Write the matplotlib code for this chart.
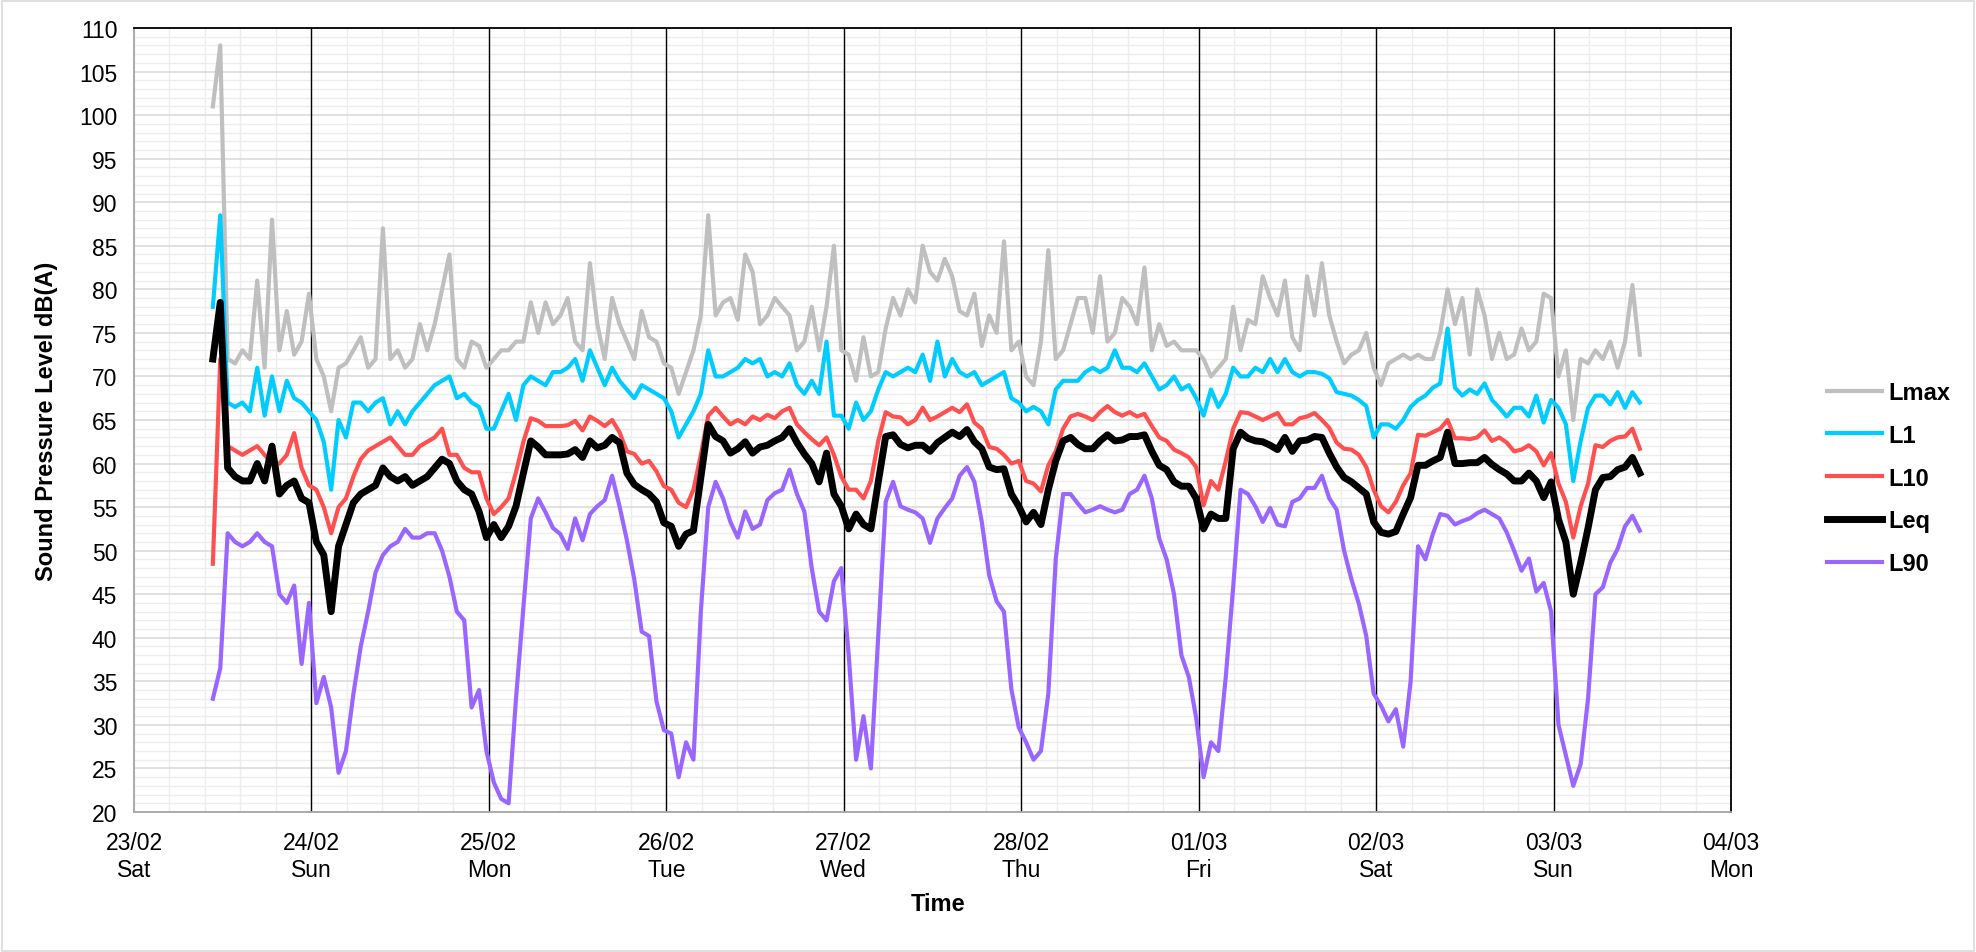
import pandas as pd
import matplotlib
matplotlib.use('Agg')
import matplotlib.pyplot as plt
import matplotlib.dates as mdates
from matplotlib.patches import Rectangle

plt.rcParams['font.family'] = ['Liberation Sans', 'DejaVu Sans']

# hourly readings, first at 23/02 10:40, last at 03/03 11:40
start = '2019-02-23 10:40'

lmax = [101, 108, 72, 71.5, 73, 72, 81, 71, 88, 73, 77.5, 72.5, 74, 79.5,
        72, 70, 66, 71, 71.5, 73, 74.5, 71, 72, 87, 72, 73, 71, 72, 76, 73, 76, 80, 84, 72, 71, 74, 73.5, 71,
        72, 73, 73, 74, 74, 78.5, 75, 78.5, 76, 77, 79, 74, 73, 83, 76, 72, 79, 76, 74, 72, 77.5, 74.5, 74, 71.5,
        71, 68, 70.5, 73, 77, 88.5, 77, 78.5, 79, 76.5, 84, 82, 76, 77, 79, 78, 77, 73, 74, 78, 73, 78, 85, 73,
        72.5, 69.5, 74.5, 70, 70.5, 75.5, 79, 77, 80, 78.5, 85, 82, 81, 83.5, 81.5, 77.5, 77, 79.5, 73.5, 77, 75, 85.5, 73, 74,
        70, 69, 74, 84.5, 72, 73, 76, 79, 79, 75, 81.5, 74, 75, 79, 78, 76, 82.5, 73, 76, 73.5, 74, 73, 73, 73,
        72, 70, 71, 72, 78, 73, 76.5, 76, 81.5, 79, 77, 81, 74.5, 73, 81.5, 77, 83, 77, 74, 71.5, 72.5, 73, 75, 71,
        69, 71.5, 72, 72.5, 72, 72.5, 72, 72, 75, 80, 76, 79, 72.5, 80, 77, 72, 75, 72, 72.5, 75.5, 73, 74, 79.5, 79,
        70, 73, 65, 72, 71.5, 73, 72, 74, 71, 74, 80.5, 72.5]

l1 = [78, 88.5, 67, 66.5, 67, 66, 71, 65.5, 70, 66, 69.5, 67.5, 67, 66,
      65, 62.5, 57, 65, 63, 67, 67, 66, 67, 67.5, 64.5, 66, 64.5, 66, 67, 68, 69, 69.5, 70, 67.5, 68, 67, 66.5, 64,
      64, 66, 68, 65, 69, 70, 69.5, 69, 70.5, 70.5, 71, 72, 69.5, 73, 71, 69, 71, 69.5, 68.5, 67.5, 69, 68.5, 68, 67.5,
      66, 63, 64.5, 66, 68, 73, 70, 70, 70.5, 71, 72, 71.5, 72, 70, 70.5, 70, 71.5, 69, 68, 69.5, 68, 74, 65.5, 65.5,
      64, 67, 65, 66, 68.5, 70.5, 70, 70.5, 71, 70.5, 72.5, 69.5, 74, 70, 72, 70.5, 70, 70.5, 69, 69.5, 70, 70.5, 67.5, 67,
      66, 66.5, 66, 64.5, 68.5, 69.5, 69.5, 69.5, 70.5, 71, 70.5, 71, 73, 71, 71, 70.5, 71.5, 70, 68.5, 69, 70, 68.5, 69, 67.5,
      65.5, 68.5, 66.5, 68, 71, 70, 70, 71, 70.5, 72, 70.5, 72, 70.5, 70, 70.5, 70.5, 70.3, 69.8, 68.2, 68, 67.8, 67.3, 66.6, 63,
      64.5, 64.5, 64, 65, 66.5, 67.3, 67.8, 68.7, 69.2, 75.5, 68.7, 67.8, 68.5, 68, 69.2, 67.3, 66.4, 65.4, 66.4, 66.4, 65.4, 67.8, 64.7, 67.3,
      66.4, 64.5, 58, 62.6, 66.4, 67.8, 67.8, 66.8, 68.2, 66.4, 68.2, 67]

l10 = [48.5, 72, 62, 61.5, 61, 61.5, 62, 61, 60, 60, 61, 63.5, 59.5, 57.5,
       57, 55, 52, 55, 56, 58.5, 60.5, 61.5, 62, 62.5, 63, 62, 61, 61, 62, 62.5, 63, 64, 61, 61, 59.5, 59, 59, 56,
       54.2, 55, 56, 59, 62.5, 65.2, 64.9, 64.3, 64.3, 64.3, 64.4, 64.9, 63.8, 65.4, 64.9, 64.3, 65, 63.6, 61.4, 61.1, 60, 60.3, 59.1, 57.4,
       57, 55.5, 55, 57, 61, 65.5, 66.4, 65.4, 64.5, 65, 64.5, 65.4, 65, 65.6, 65.2, 66, 66.4, 64.5, 63.6, 62.8, 62.1, 63, 61, 58.5,
       57, 57, 56, 58, 62.6, 65.9, 65.4, 65.3, 64.5, 65, 66.4, 65, 65.4, 65.9, 66.4, 65.9, 66.8, 64.7, 64, 61.9, 61.7, 61, 60, 60.3,
       58, 57.7, 56.8, 59.8, 61.4, 64, 65.4, 65.7, 65.4, 65, 65.9, 66.6, 65.9, 65.5, 65.9, 65.4, 65.7, 64.3, 63, 62.6, 61.6, 61.2, 60.7, 59.6,
       55.2, 58, 57, 60.3, 64, 65.9, 65.8, 65.4, 65, 65.4, 65.8, 64.5, 64.5, 65.2, 65.4, 65.8, 65, 64.1, 62.4, 61.7, 61.6, 61, 59.6, 57,
       55.1, 54.4, 55.6, 57.5, 58.9, 63.3, 63.2, 63.6, 64, 65, 62.9, 62.9, 62.8, 63, 63.8, 62.6, 63, 62.4, 61.4, 61.6, 62.1, 61.4, 59.8, 61.2,
       57.7, 55.6, 51.5, 55.1, 57.7, 62.1, 61.9, 62.6, 63, 63.1, 64, 61.7]

leq = [72, 78.5, 59.5, 58.5, 58, 58, 60, 58, 62, 56.5, 57.5, 58, 56, 55.5,
       51, 49.5, 43, 50.5, 53, 55.5, 56.5, 57, 57.5, 59.5, 58.5, 58, 58.5, 57.5, 58, 58.5, 59.5, 60.5, 60, 58, 57, 56.5, 54.5, 51.5,
       53, 51.5, 52.8, 55.1, 58.9, 62.6, 61.9, 61, 61, 61, 61.1, 61.6, 60.7, 62.6, 61.8, 62.1, 63, 62.4, 58.9, 57.6, 57, 56.5, 55.6, 53.2,
       52.8, 50.5, 51.9, 52.3, 58.4, 64.5, 63.1, 62.6, 61.2, 61.7, 62.5, 61.2, 61.9, 62.1, 62.6, 63, 64, 62.4, 61.1, 60, 57.9, 61.2, 56.5, 55.1,
       52.5, 54.2, 53, 52.5, 57.9, 63.1, 63.3, 62.2, 61.8, 62.1, 62.1, 61.4, 62.4, 63, 63.6, 63.1, 63.9, 62.5, 61.7, 59.6, 59.3, 59.4, 56.5, 55.1,
       53.3, 54.4, 53, 57, 60.3, 62.6, 63, 62.2, 61.7, 61.7, 62.6, 63.3, 62.6, 62.7, 63.1, 63.1, 63.3, 61.4, 59.8, 59.3, 57.9, 57.4, 57.4, 56,
       52.5, 54.2, 53.7, 53.7, 61.7, 63.6, 62.9, 62.6, 62.5, 62.1, 61.6, 63, 61.4, 62.6, 62.7, 63.1, 63, 61.2, 59.6, 58.4, 57.9, 57.2, 56.5, 53.3,
       52.1, 51.9, 52.2, 54.2, 56.1, 59.8, 59.8, 60.3, 60.7, 63.6, 60, 60, 60.1, 60.1, 60.7, 59.9, 59.3, 58.8, 58, 58, 58.9, 58, 56.1, 57.9,
       53.6, 51, 45, 48.6, 52.6, 57, 58.4, 58.5, 59.3, 59.6, 60.7, 58.9]

l90 = [33, 36.5, 52, 51, 50.5, 51, 52, 51, 50.5, 45, 44, 46, 37, 44,
       32.5, 35.5, 32, 24.5, 27, 33.5, 39, 43, 47.5, 49.5, 50.5, 51, 52.5, 51.5, 51.5, 52, 52, 50, 47, 43, 42, 32, 34, 27,
       23.4, 21.5, 21, 33, 43.5, 53.7, 56, 54.4, 52.6, 51.9, 50.2, 53.7, 51.2, 54.2, 55.1, 55.8, 58.6, 55.1, 51.2, 46.7, 40.7, 40.2, 32.7, 29.4,
       29, 24, 28, 26, 43, 55, 57.9, 56, 53.3, 51.5, 54.5, 52.5, 53, 55.8, 56.6, 57, 59.3, 56.5, 54.5, 48, 43, 42, 46.5, 48,
       38, 26, 31, 25, 40.2, 55.6, 57.9, 55.1, 54.7, 54.4, 53.7, 50.9, 53.7, 54.9, 56, 58.6, 59.6, 57.9, 53.3, 47.2, 44.2, 43, 34.1, 29.7,
       28, 26, 27, 33.6, 49, 56.5, 56.5, 55.4, 54.4, 54.7, 55.1, 54.7, 54.4, 54.7, 56.5, 57, 58.6, 56, 51.4, 49, 45, 38, 35.5, 30.8,
       24, 28, 27, 35.5, 45.8, 57, 56.5, 55.1, 53.3, 54.9, 53, 52.8, 55.6, 56, 57.2, 57.2, 58.6, 56, 54.7, 50, 46.7, 43.9, 40.2, 33.6,
       32.2, 30.4, 31.8, 27.5, 35, 50.5, 49, 51.9, 54.2, 54, 53, 53.4, 53.7, 54.3, 54.7, 54.2, 53.7, 52.1, 50, 47.7, 49.1, 45.3, 46.3, 43,
       30, 26.5, 23, 25.5, 33, 45, 45.8, 48.6, 50.2, 52.8, 54, 52.3]

day_labels = ['23/02\nSat', '24/02\nSun', '25/02\nMon', '26/02\nTue', '27/02\nWed',
              '28/02\nThu', '01/03\nFri', '02/03\nSat', '03/03\nSun', '04/03\nMon']

times = pd.date_range(start, periods=len(leq), freq='h')
days = pd.date_range('2019-02-23', periods=len(day_labels), freq='D')

fig = plt.figure(figsize=(19.76, 9.53), dpi=100)
ax = fig.add_axes([134 / 1976, 1 - 813 / 953, 1597 / 1976, 784 / 953])

# grid: 1 dB / 5 dB horizontally, 0.2 day vertically
x0 = mdates.date2num(days[0])
x1 = mdates.date2num(days[-1])
ax.set_xlim(x0, x1)
ax.set_ylim(20, 110)
ax.set_yticks(range(20, 111, 5))
ax.set_yticks(range(20, 111, 1), minor=True)
ax.set_xticks(mdates.date2num(days))
ax.set_xticklabels(day_labels)
ax.set_xticks([x0 + 0.2 * i for i in range(1, 45) if i % 5], minor=True)
ax.grid(which='minor', color='#ededed', lw=1.0, zorder=0)
ax.grid(which='major', axis='y', color='#d9d9d9', lw=1.1, zorder=0)
ax.grid(which='major', axis='x', color='#ededed', lw=1.0, zorder=0)
ax.set_axisbelow(True)

# midnight markers
for d in days[1:-1]:
    ax.axvline(d, color='black', lw=1.0, zorder=1)

ax.plot(times, lmax, color='#bfbfbf', lw=3.0, label='Lmax', zorder=2)
ax.plot(times, l1, color='#00ccff', lw=3.0, label='L1', zorder=3)
ax.plot(times, l10, color='#ff5050', lw=3.0, label='L10', zorder=4)
ax.plot(times, leq, color='black', lw=5.0, label='Leq', zorder=5)
ax.plot(times, l90, color='#9966ff', lw=3.0, label='L90', zorder=4)

ax.tick_params(which='both', length=0)
ax.tick_params(axis='y', labelsize=16.5, pad=12)
ax.tick_params(axis='x', labelsize=16.5, pad=14)
for s in ['top', 'right']:
    ax.spines[s].set_color('black')
    ax.spines[s].set_linewidth(1.3)
for s in ['left', 'bottom']:
    ax.spines[s].set_color('#a6a6a6')
    ax.spines[s].set_linewidth(1.3)

fig.text(47 / 1976, 1 - 421 / 953, 'Sound Pressure Level dB(A)', rotation=90,
         ha='center', va='center', fontsize=17, fontweight='bold')
fig.text(938 / 1976, 1 - 905 / 953, 'Time', ha='center', va='center',
         fontsize=17, fontweight='bold')

ax.legend(loc='center left', bbox_to_anchor=(1818 / 1976, 1 - 479 / 953),
          bbox_transform=fig.transFigure, frameon=False, borderaxespad=0,
          prop={'weight': 'bold', 'size': 17}, handlelength=2.3,
          handletextpad=0.3, labelspacing=0.84)

# chart border
fig.patches.append(Rectangle((0.001, 0.001), 0.998, 0.997, transform=fig.transFigure,
                             fill=False, edgecolor='#d9d9d9', lw=1.2))

fig.savefig('out.png', dpi=100)
